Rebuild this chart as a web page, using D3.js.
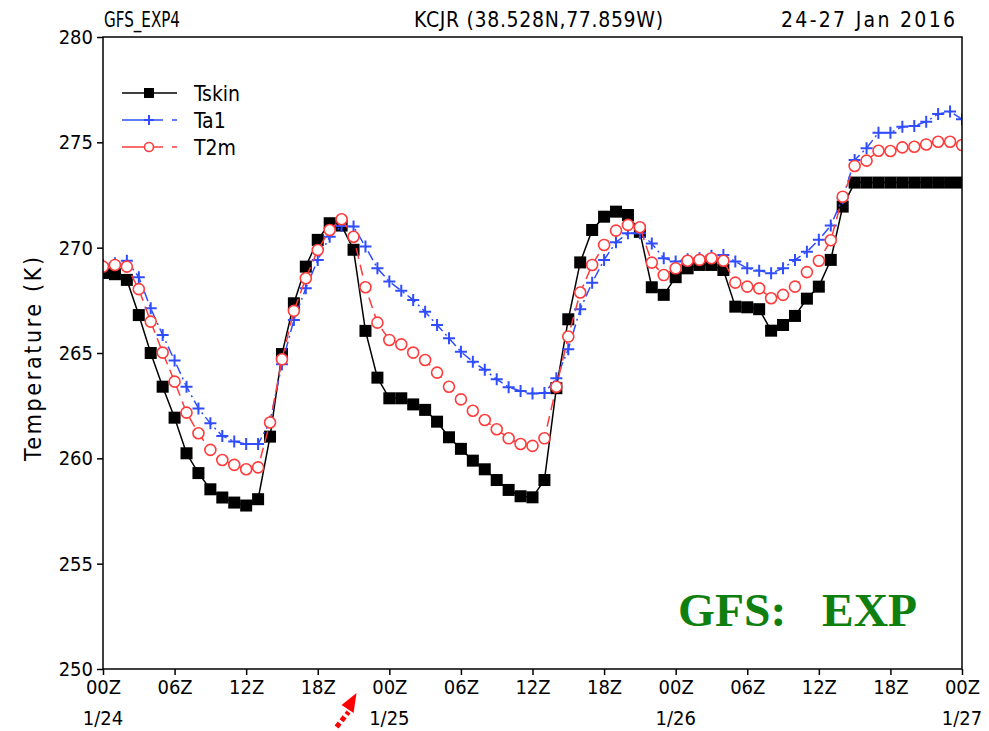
<!DOCTYPE html>
<html>
<head>
<meta charset="utf-8">
<script src="https://cdn.jsdelivr.net/npm/d3@7"></script>
<style>
  body { margin: 0; background: #fff; }
  svg text { font-family: "Liberation Sans Narrow", "DejaVu Sans Condensed", "Liberation Sans", sans-serif; }
</style>
</head>
<body>
<svg id="chart" width="989" height="731"></svg>
<script>
// forecast hours since 00Z 1/24
let hours = d3.range(0, 73);

let tskin = [268.8, 268.74, 268.47, 266.8, 265.0, 263.4, 261.93, 260.24, 259.3, 258.53, 258.14, 257.9, 257.76,
  258.06, 261.03, 264.95, 267.36, 269.1, 270.37, 271.16, 271.05, 269.9, 266.05, 263.83, 262.85,
  262.85, 262.56, 262.3, 261.74, 261.0, 260.45, 259.89, 259.48, 258.97, 258.5, 258.2, 258.15,
  258.97, 263.33, 266.6, 269.3, 270.84, 271.47, 271.71, 271.55, 270.75, 268.12, 267.76, 268.6,
  269.02, 269.18, 269.18, 268.94, 267.2, 267.17, 267.08, 266.06, 266.33, 266.76, 267.58, 268.15,
  269.42, 271.95, 273.09, 273.09, 273.09, 273.09, 273.09, 273.09, 273.09, 273.09, 273.09, 273.09];

let ta1 = [269.18, 269.26, 269.38, 268.6, 267.12, 265.86, 264.64, 263.4, 262.37, 261.66, 261.06, 260.8, 260.68,
  260.68, 261.74, 264.47, 266.57, 268.07, 269.42, 270.52, 271.03, 271.0, 270.05, 269.02, 268.39,
  267.96, 267.52, 266.96, 266.33, 265.7, 265.06, 264.59, 264.2, 263.75, 263.38, 263.2, 263.08,
  263.1, 263.8, 265.18, 267.08, 268.34, 269.42, 270.26, 270.68, 270.68, 270.2, 269.5, 269.34,
  269.45, 269.5, 269.62, 269.65, 269.34, 269.02, 268.91, 268.79, 269.02, 269.42, 269.81, 270.37,
  271.05, 272.34, 274.16, 274.72, 275.46, 275.46, 275.74, 275.78, 275.98, 276.35, 276.46, 276.1];

let t2m = [269.1, 269.18, 269.1, 268.03, 266.49, 265.02, 263.64, 262.17, 261.19, 260.4, 259.92, 259.69, 259.48,
  259.57, 261.7, 264.7, 267.0, 268.55, 269.89, 270.84, 271.35, 270.52, 268.12, 266.44, 265.62,
  265.41, 265.02, 264.67, 264.07, 263.4, 262.8, 262.26, 261.82, 261.38, 260.95, 260.68, 260.59,
  260.95, 263.4, 265.78, 267.87, 269.18, 270.13, 270.81, 271.08, 270.97, 269.29, 268.7, 269.02,
  269.38, 269.42, 269.5, 269.38, 268.34, 268.15, 268.07, 267.6, 267.76, 268.15, 268.84, 269.38,
  270.35, 272.42, 273.88, 274.13, 274.6, 274.59, 274.76, 274.79, 274.9, 275.03, 275.03, 274.87];

let xTickHours = [0, 6, 12, 18, 24, 30, 36, 42, 48, 54, 60, 66, 72];
let xTickLabels = ["00Z", "06Z", "12Z", "18Z", "00Z", "06Z", "12Z", "18Z", "00Z", "06Z", "12Z", "18Z", "00Z"];
let dateHours = [0, 24, 48, 72];
let dateLabels = ["1/24", "1/25", "1/26", "1/27"];
let yTicks = [250, 255, 260, 265, 270, 275, 280];

let seriesNames = ["Tskin", "Ta1", "T2m"];

let margin = { left: 103, right: 27, top: 37, bottom: 62 };
let width = 989, height = 731;

let svg = d3.select("#chart");

let x = d3.scaleLinear().domain([0, 72]).range([margin.left, width - margin.right]);
let y = d3.scaleLinear().domain([250, 280]).range([height - margin.bottom, margin.top]);

// clip to plot frame
svg.append("clipPath").attr("id", "plotClip")
  .append("rect")
  .attr("x", x(0)).attr("y", y(280))
  .attr("width", x(72) - x(0)).attr("height", y(250) - y(280));

// titles (widths matched to the GrADS stroke font)
svg.append("text").attr("x", x(0) + 1).attr("y", 27).text("GFS_EXP4")
  .attr("textLength", 76).attr("lengthAdjust", "spacingAndGlyphs").style("font-size", "21px");
svg.append("text").attr("x", 414).attr("y", 27).text("KCJR (38.528N,77.859W)")
  .attr("textLength", 249).attr("lengthAdjust", "spacing").style("font-size", "21px");
svg.append("text").attr("x", 781).attr("y", 27).text("24-27 Jan 2016")
  .attr("textLength", 174).attr("lengthAdjust", "spacing").style("font-size", "21px");

// y axis
let yAxis = d3.axisLeft(y).tickValues(yTicks).tickSize(6).tickPadding(4).tickFormat(d3.format("d"));
let gy = svg.append("g").attr("transform", "translate(" + x(0) + ",0)").call(yAxis);
gy.select(".domain").remove();
gy.selectAll("line").attr("stroke", "#000").attr("stroke-width", 1.5);
gy.selectAll("text").style("font-size", "20px").attr("fill", "#000")
  .style("font-family", "\"Liberation Sans Narrow\", \"DejaVu Sans Condensed\", sans-serif");

// x axis
let xAxis = d3.axisBottom(x).tickValues(xTickHours).tickSize(6).tickPadding(5)
  .tickFormat((d, i) => xTickLabels[i]);
let gx = svg.append("g").attr("transform", "translate(0," + y(250) + ")").call(xAxis);
gx.select(".domain").remove();
gx.selectAll("line").attr("stroke", "#000").attr("stroke-width", 1.5);
gx.selectAll("text").style("font-size", "20px").attr("fill", "#000")
  .style("font-family", "\"Liberation Sans Narrow\", \"DejaVu Sans Condensed\", sans-serif");

// date labels under 00Z ticks
dateHours.forEach((h, i) => {
  svg.append("text")
    .attr("x", x(h)).attr("y", y(250) + 56)
    .text(dateLabels[i])
    .style("font-size", "20px")
    .style("text-anchor", "middle");
});

// y title
svg.append("text")
  .attr("transform", "translate(41," + ((y(250) + y(280)) / 2 + 6) + ")rotate(-90)")
  .text("Temperature (K)")
  .attr("textLength", 204).attr("lengthAdjust", "spacing")
  .style("font-size", "23px")
  .style("text-anchor", "middle");

let plot = svg.append("g").attr("clip-path", "url(#plotClip)");

let line = d3.line().x((d, i) => x(hours[i])).y(d => y(d));

function drawSquares(g, data) {
  g.selectAll(null).data(data).enter().append("rect")
    .attr("x", (d, i) => x(hours[i]) - 6)
    .attr("y", d => y(d) - 6)
    .attr("width", 12).attr("height", 12)
    .attr("fill", "#000");
}
function drawPlus(g, data, color) {
  g.selectAll(null).data(data).enter().append("path")
    .attr("d", (d, i) => {
      let cx = x(hours[i]), cy = y(d);
      return "M" + (cx - 6) + "," + cy + "H" + (cx + 6) + "M" + cx + "," + (cy - 6) + "V" + (cy + 6);
    })
    .attr("stroke", color).attr("stroke-width", 2).attr("fill", "none");
}
function drawCircles(g, data, color) {
  g.selectAll(null).data(data).enter().append("circle")
    .attr("cx", (d, i) => x(hours[i]))
    .attr("cy", d => y(d))
    .attr("r", 5.5)
    .attr("fill", "#fff").attr("stroke", color).attr("stroke-width", 1.6);
}

let blue = "#2f4dff", red = "#ff3b3b";

// Tskin
plot.append("path").attr("d", line(tskin)).attr("fill", "none").attr("stroke", "#000").attr("stroke-width", 1.5);
drawSquares(plot.append("g"), tskin);

// Ta1
plot.append("path").attr("d", line(ta1)).attr("fill", "none").attr("stroke", blue)
  .attr("stroke-width", 1.5).attr("stroke-dasharray", "10,4,2,4");
drawPlus(plot.append("g"), ta1, blue);

// T2m
plot.append("path").attr("d", line(t2m)).attr("fill", "none").attr("stroke", red)
  .attr("stroke-width", 1.5).attr("stroke-dasharray", "11,6");
drawCircles(plot.append("g"), t2m, red);

// frame
svg.append("rect")
  .attr("x", x(0)).attr("y", y(280))
  .attr("width", x(72) - x(0)).attr("height", y(250) - y(280))
  .attr("fill", "none").attr("stroke", "#000").attr("stroke-width", 1.5);

// legend
let legendX = 122, legendY = 93, legendStep = 27;
seriesNames.forEach((name, i) => {
  let ly = legendY + i * legendStep;
  let g = svg.append("g");
  if (i === 0) {
    g.append("line").attr("x1", legendX).attr("x2", legendX + 55).attr("y1", ly).attr("y2", ly)
      .attr("stroke", "#000").attr("stroke-width", 1.5);
    g.append("rect").attr("x", legendX + 22).attr("y", ly - 5).attr("width", 10).attr("height", 10).attr("fill", "#000");
  } else {
    let c = i === 1 ? blue : red;
    g.append("line").attr("x1", legendX).attr("x2", legendX + 41).attr("y1", ly).attr("y2", ly)
      .attr("stroke", c).attr("stroke-width", 1.5);
    g.append("line").attr("x1", legendX + 50).attr("x2", legendX + 55).attr("y1", ly).attr("y2", ly)
      .attr("stroke", c).attr("stroke-width", 1.5);
    if (i === 1) {
      g.append("path").attr("d", "M" + (legendX + 22) + "," + ly + "h10M" + (legendX + 27) + "," + (ly - 5) + "v10")
        .attr("stroke", c).attr("stroke-width", 2);
    } else {
      g.append("circle").attr("cx", legendX + 27).attr("cy", ly).attr("r", 4.5)
        .attr("fill", "#fff").attr("stroke", c).attr("stroke-width", 1.6);
    }
  }
  g.append("text").attr("x", legendX + 72).attr("y", ly + 8).text(name).style("font-size", "21px");
});

// GFS: EXP stamp
svg.append("text")
  .attr("x", 678).attr("y", 626)
  .text("GFS:\u00a0\u00a0\u00a0EXP")
  .attr("textLength", 239).attr("lengthAdjust", "spacingAndGlyphs")
  .style("font-family", "\"Liberation Serif\", \"Times New Roman\", serif")
  .style("font-weight", "bold")
  .style("font-size", "47px")
  .attr("fill", "#0f800f");

// red dotted arrow below the axis
let ax = x(21);
let arrow = svg.append("g");
arrow.append("line")
  .attr("x1", ax - 17).attr("y1", y(250) + 58)
  .attr("x2", ax - 5).attr("y2", y(250) + 43)
  .attr("stroke", "#ff0000").attr("stroke-width", 5).attr("stroke-dasharray", "5,3");
arrow.append("path")
  .attr("d", "M" + (ax + 3) + "," + (y(250) + 24) + "L" + (ax + 0) + "," + (y(250) + 44) + "L" + (ax - 12) + "," + (y(250) + 36) + "Z")
  .attr("fill", "#ff0000");
</script>
</body>
</html>
